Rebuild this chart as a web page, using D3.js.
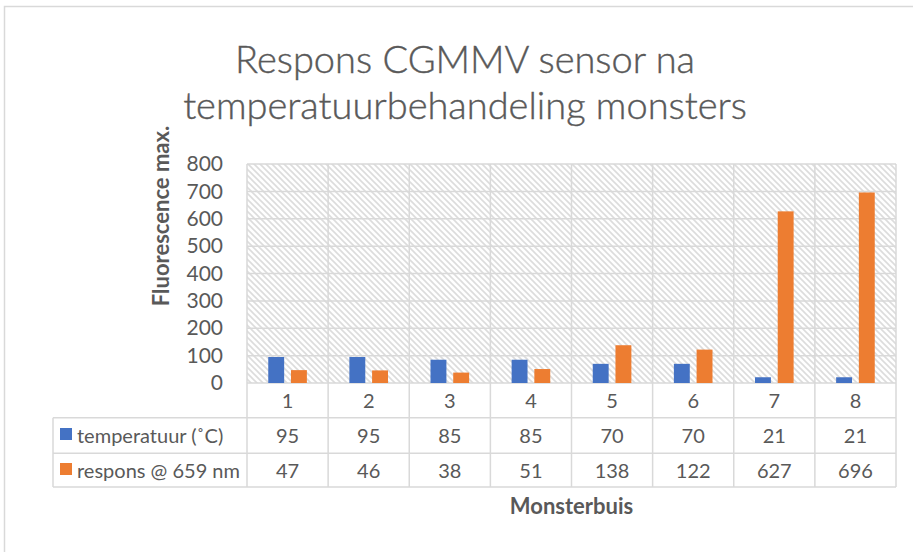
<!DOCTYPE html>
<html>
<head>
<meta charset="utf-8">
<script src="https://cdn.jsdelivr.net/npm/d3@7"></script>
<style>
  html, body { margin: 0; padding: 0; background: #fff; }
  svg { display: block; }
  text { font-family: Lato, "Open Sans", "Noto Sans", sans-serif; fill: #595959; }
</style>
</head>
<body>
<svg id="chart" width="913" height="552"></svg>
<script>
const categories = ["1", "2", "3", "4", "5", "6", "7", "8"];
const seriesNames = ["temperatuur (˚C)", "respons @ 659 nm"];
const temperature = [95, 95, 85, 85, 70, 70, 21, 21];
const response = [47, 46, 38, 51, 138, 122, 627, 696];
const yTicks = [0, 100, 200, 300, 400, 500, 600, 700, 800];
const titleLines = ["Respons CGMMV sensor na", "temperatuurbehandeling monsters"];
const yLabel = "Fluorescence max.";
const xLabel = "Monsterbuis";

const colors = ["#4472C4", "#ED7D31"];
const grid = "#d9d9d9";
const series = [temperature, response];

const svg = d3.select("#chart");
const plot = { left: 247, right: 896, top: 164, bottom: 383 };
const tableLeft = 53, row1 = 417.7, row2 = 453.3, tableBottom = 487;

// hatch pattern
const defs = svg.append("defs");
const pat = defs.append("pattern")
  .attr("id", "hatch").attr("patternUnits", "userSpaceOnUse")
  .attr("width", 6).attr("height", 6);
pat.append("rect").attr("width", 6).attr("height", 6).attr("fill", "#fff");
pat.append("path").attr("d", "M-1,-1 L7,7 M-1,5 L1,7 M5,-1 L7,1")
  .attr("stroke", "#dcdcdc").attr("stroke-width", 1.6);

// outer border
svg.append("path").attr("d", "M4.5,552 L4.5,6.5 L913,6.5")
  .attr("fill", "none").attr("stroke", grid).attr("stroke-width", 1.5);

const x = d3.scaleBand().domain(categories).range([plot.left, plot.right]);
const y = d3.scaleLinear().domain([0, 800]).range([plot.bottom, plot.top]);
const bw = x.bandwidth();
const x1 = d3.scaleBand().domain([0, 1]).range([bw * 0.262, bw * 0.738]).paddingInner(0.3);

// plot background
svg.append("rect").attr("x", plot.left).attr("y", plot.top)
  .attr("width", plot.right - plot.left).attr("height", plot.bottom - plot.top)
  .attr("fill", "url(#hatch)");

// horizontal gridlines
svg.append("g").selectAll("line").data(yTicks).join("line")
  .attr("x1", plot.left).attr("x2", plot.right)
  .attr("y1", d => y(d)).attr("y2", d => y(d))
  .attr("stroke", grid).attr("stroke-width", 1.5);

// vertical lines (plot + table)
const vLines = categories.map(c => x(c)).concat([plot.right]);
svg.append("g").selectAll("line").data(vLines).join("line")
  .attr("x1", d => d).attr("x2", d => d)
  .attr("y1", plot.top).attr("y2", tableBottom)
  .attr("stroke", grid).attr("stroke-width", 1.5);

// table horizontal lines
[row1, row2, tableBottom].forEach(yy => {
  svg.append("line").attr("x1", tableLeft).attr("x2", plot.right)
    .attr("y1", yy).attr("y2", yy).attr("stroke", grid).attr("stroke-width", 1.5);
});
svg.append("line").attr("x1", tableLeft).attr("x2", tableLeft)
  .attr("y1", row1).attr("y2", tableBottom).attr("stroke", grid).attr("stroke-width", 1.5);

// bars
series.forEach((vals, si) => {
  svg.append("g").selectAll("rect").data(vals).join("rect")
    .attr("x", (d, i) => x(categories[i]) + x1(si))
    .attr("width", x1.bandwidth())
    .attr("y", d => y(d))
    .attr("height", d => y(0) - y(d))
    .attr("fill", colors[si]);
});

// y axis
const yAxis = svg.append("g").attr("transform", `translate(${plot.left},0)`)
  .call(d3.axisLeft(y).tickValues(yTicks).tickSize(0).tickPadding(24));
yAxis.select(".domain").remove();
yAxis.selectAll("text").attr("font-size", 21).attr("fill", "#595959")
  .style("font-family", "Lato, 'Open Sans', sans-serif");

// category labels (header row)
svg.append("g").selectAll("text").data(categories).join("text")
  .attr("x", d => x(d) + bw / 2).attr("y", 408)
  .attr("text-anchor", "middle").attr("font-size", 20).text(d => d);

// table values
const rowBase = [443, 478];
series.forEach((vals, si) => {
  svg.append("g").selectAll("text").data(vals).join("text")
    .attr("x", (d, i) => x(categories[i]) + bw / 2).attr("y", rowBase[si])
    .attr("text-anchor", "middle").attr("font-size", 20).text(d => d);
  svg.append("rect").attr("x", 60).attr("y", rowBase[si] - 15)
    .attr("width", 12).attr("height", 12).attr("fill", colors[si]);
  svg.append("text").attr("x", 77).attr("y", rowBase[si])
    .attr("font-size", 20).text(seriesNames[si]);
});

// title
svg.append("g").selectAll("text").data(titleLines).join("text")
  .attr("x", 465).attr("y", (d, i) => 73 + i * 46)
  .attr("text-anchor", "middle").attr("font-size", 38).attr("font-weight", 300)
  .attr("stroke", "#595959").attr("stroke-width", 0.4)
  .text(d => d);

// y label
svg.append("text").attr("transform", "translate(169,216) rotate(-90)")
  .attr("text-anchor", "middle").attr("font-size", 22).attr("font-weight", 700)
  .text(yLabel);

// x label
svg.append("text").attr("x", (plot.left + plot.right) / 2).attr("y", 514)
  .attr("text-anchor", "middle").attr("font-size", 22).attr("font-weight", 700)
  .text(xLabel);
</script>
</body>
</html>
